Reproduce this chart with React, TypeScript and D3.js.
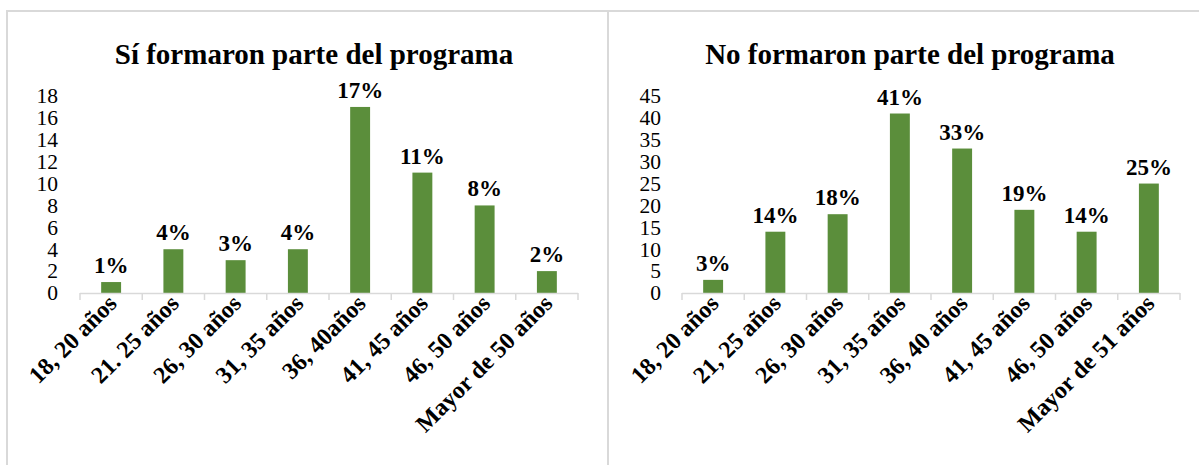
import React from "react";
import * as d3 from "d3";

const leftTitle = "Sí formaron parte del programa";
const rightTitle = "No formaron parte del programa";
const leftCategories = ["18, 20 años", "21. 25 años", "26, 30 años", "31, 35 años", "36, 40años", "41, 45 años", "46, 50 años", "Mayor de 50 años"];
const rightCategories = ["18, 20 años", "21, 25 años", "26, 30 años", "31, 35 años", "36, 40 años", "41, 45 años", "46, 50 años", "Mayor de 51 años"];
const leftValues = [1, 4, 3, 4, 17, 11, 8, 2];
const rightValues = [3, 14, 18, 41, 33, 19, 14, 25];
const leftLabels = ["1%", "4%", "3%", "4%", "17%", "11%", "8%", "2%"];
const rightLabels = ["3%", "14%", "18%", "41%", "33%", "19%", "14%", "25%"];
const leftTicks = [0, 2, 4, 6, 8, 10, 12, 14, 16, 18];
const rightTicks = [0, 5, 10, 15, 20, 25, 30, 35, 40, 45];

const FONT = "'Liberation Serif', 'Times New Roman', serif";
const BAR = "#5b8e3b";
const GRID = "#d9d9d9";

type PanelProps = {
  title: string;
  titleX: number;
  categories: string[];
  values: number[];
  labels: string[];
  ticks: number[];
  x0: number;
  x1: number;
  tickRight: number;
};

function Panel({ title, titleX, categories, values, labels, ticks, x0, x1, tickRight }: PanelProps) {
  const yMax = ticks[ticks.length - 1];
  const y = d3.scaleLinear().domain([0, yMax]).range([293, 96]);
  const x = d3.scaleBand<string>().domain(categories).range([x0, x1]).paddingInner(0.68).paddingOuter(0.34);
  const step = x.step();
  const boundaries = d3.range(categories.length + 1).map((i) => x0 + i * step);
  return (
    <g>
      <text x={titleX} y={64} textAnchor="middle" fontFamily={FONT} fontWeight="bold" fontSize={29} fill="#000">
        {title}
      </text>
      {ticks.map((t) => (
        <text key={t} x={tickRight} y={y(t)} dy="0.34em" textAnchor="end" fontFamily={FONT} fontSize={21.5} fill="#000">
          {t}
        </text>
      ))}
      {categories.map((c, i) => (
        <rect key={c} x={x(c)} y={y(values[i])} width={x.bandwidth()} height={y(0) - y(values[i])} fill={BAR} />
      ))}
      <line x1={x0} x2={x1} y1={y(0) + 0.5} y2={y(0) + 0.5} stroke={GRID} strokeWidth={1.5} />
      {boundaries.map((b, i) => (
        <line key={i} x1={b} x2={b} y1={y(0)} y2={y(0) + 7} stroke={GRID} strokeWidth={1.5} />
      ))}
      {categories.map((c, i) => (
        <text key={c} x={(x(c) as number) + x.bandwidth() / 2} y={y(values[i]) - 9} textAnchor="middle" fontFamily={FONT} fontWeight="bold" fontSize={23} fill="#000">
          {labels[i]}
        </text>
      ))}
      {categories.map((c, i) => {
        const cx = (x(c) as number) + x.bandwidth() / 2 + 7;
        const cy = y(0) + 12;
        return (
          <text key={c} transform={`translate(${cx},${cy}) rotate(-45)`} textAnchor="end" fontFamily={FONT} fontWeight="bold" fontSize={24} fill="#000">
            {c}
          </text>
        );
      })}
    </g>
  );
}

export default function App() {
  return (
    <svg width={1199} height={465} style={{ position: "absolute", left: 0, top: 0, background: "#fff" }}>
      <rect x={0} y={0} width={1199} height={465} fill="#fff" />
      <line x1={6} x2={1199} y1={11} y2={11} stroke={GRID} strokeWidth={2} />
      <line x1={7} x2={7} y1={11} y2={465} stroke={GRID} strokeWidth={2} />
      <line x1={608} x2={608} y1={11} y2={465} stroke={GRID} strokeWidth={2} />
      <Panel title={leftTitle} titleX={314} categories={leftCategories} values={leftValues} labels={leftLabels} ticks={leftTicks} x0={80} x1={578} tickRight={58} />
      <Panel title={rightTitle} titleX={910} categories={rightCategories} values={rightValues} labels={rightLabels} ticks={rightTicks} x0={682} x1={1180} tickRight={661} />
    </svg>
  );
}
